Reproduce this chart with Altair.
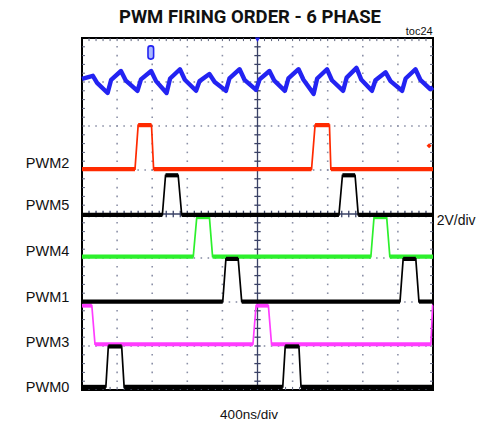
import altair as alt
import pandas as pd

# ---- values ----
# time axis in divisions (400 ns/div, 10 div), amplitude in divisions (2 V/div, 8 div)
BLUE_X = [0.00, 0.31, 0.43, 0.73, 0.83, 1.11, 1.25, 1.58, 1.68, 1.97, 2.11, 2.41, 2.51, 2.79, 2.93,
          3.25, 3.35, 3.63, 3.78, 4.10, 4.20, 4.49, 4.63, 4.96, 5.06, 5.34, 5.48, 5.78, 5.88, 6.17,
          6.31, 6.60, 6.70, 6.98, 7.12, 7.44, 7.54, 7.82, 7.96, 8.26, 8.36, 8.65, 8.79, 9.12, 9.22,
          9.50, 9.64, 9.92, 10.00]
BLUE_Y = [7.07, 7.14, 6.98, 6.75, 7.05, 7.25, 7.03, 6.80, 7.06, 7.25, 7.02, 6.75, 7.08, 7.29, 7.05,
          6.80, 7.02, 7.18, 7.00, 6.80, 7.08, 7.29, 7.05, 6.82, 7.06, 7.25, 7.03, 6.80, 7.08, 7.29,
          7.05, 6.73, 7.08, 7.29, 7.04, 6.80, 7.10, 7.32, 7.05, 6.80, 7.04, 7.22, 7.02, 6.80, 7.08,
          7.29, 7.05, 6.84, 6.88]

PWM2_X = [0, 1.51, 1.60, 1.98, 2.04, 6.54, 6.64, 7.05, 7.09, 10]
PWM2_Y = [5.02, 5.02, 6.02, 6.02, 5.02, 5.02, 6.02, 6.02, 5.02, 5.02]
PWM5_X = [0, 2.29, 2.38, 2.74, 2.84, 7.32, 7.42, 7.78, 7.87, 10]
PWM5_Y = [3.98, 3.98, 4.88, 4.88, 3.98, 3.98, 4.88, 4.88, 3.98, 3.98]
PWM4_X = [0, 3.17, 3.27, 3.63, 3.72, 8.23, 8.32, 8.68, 8.77, 10]
PWM4_Y = [3.03, 3.03, 3.93, 3.93, 3.03, 3.03, 3.93, 3.93, 3.03, 3.03]
PWM1_X = [0, 4.01, 4.10, 4.45, 4.55, 9.06, 9.15, 9.51, 9.60, 10]
PWM1_Y = [2.01, 2.01, 2.98, 2.98, 2.01, 2.01, 2.98, 2.98, 2.01, 2.01]
PWM3_X = [0, 0.28, 0.37, 4.87, 4.96, 5.31, 5.40, 9.94, 9.99, 10]
PWM3_Y = [1.92, 1.92, 1.04, 1.04, 1.92, 1.92, 1.04, 1.04, 1.92, 1.92]
PWM0_X = [0, 0.68, 0.75, 1.13, 1.20, 5.72, 5.79, 6.18, 6.24, 10]
PWM0_Y = [0.07, 0.07, 0.99, 0.99, 0.07, 0.07, 0.99, 0.99, 0.07, 0.07]

TRACE_NAMES = ["PWM2", "PWM5", "PWM4", "PWM1", "PWM3", "PWM0"]
TRACE_XS = [PWM2_X, PWM5_X, PWM4_X, PWM1_X, PWM3_X, PWM0_X]
TRACE_YS = [PWM2_Y, PWM5_Y, PWM4_Y, PWM1_Y, PWM3_Y, PWM0_Y]
TRACE_COLORS = ["#ff2a00", "#000000", "#2cf02c", "#000000", "#ff3cff", "#000000"]
DRAW_ORDER = ["PWM2", "PWM3", "PWM4", "PWM5", "PWM1", "PWM0"]
LABEL_Y = [5.05, 4.09, 3.05, 2.01, 0.98, -0.04]

TITLE = "PWM FIRING ORDER - 6 PHASE"
FIG_ID = "toc24"
Y_SCALE_TEXT = "2V/div"
X_SCALE_TEXT = "400ns/div"

X_DIVS = 10
Y_DIVS = 8

xs = alt.Scale(domain=[0, X_DIVS], nice=False, zero=False)
ys = alt.Scale(domain=[0, Y_DIVS], nice=False, zero=False)

def X(f="x"):
    return alt.X(f + ":Q", scale=xs, axis=None)

def Y(f="y"):
    return alt.Y(f + ":Q", scale=ys, axis=None)

# ---- graticule ----
dots = []
for gx in range(1, X_DIVS):
    if gx == X_DIVS // 2:
        continue
    for k in range(1, Y_DIVS * 5):
        dots.append({"x": gx, "y": k * 0.2})
for gy in range(1, Y_DIVS):
    if gy == Y_DIVS // 2:
        continue
    for k in range(1, X_DIVS * 5):
        dots.append({"x": k * 0.2, "y": gy})
dots_df = pd.DataFrame(dots)

ticks = []
for k in range(1, X_DIVS * 5):
    x = k * 0.2
    ticks.append({"x": x, "x2": x, "y": Y_DIVS, "y2": Y_DIVS - 0.07})
    ticks.append({"x": x, "x2": x, "y": 0, "y2": 0.07})
for k in range(1, Y_DIVS * 5):
    y = k * 0.2
    ticks.append({"x": 0, "x2": 0.085, "y": y, "y2": y})
    ticks.append({"x": X_DIVS, "x2": X_DIVS - 0.085, "y": y, "y2": y})
ticks_df = pd.DataFrame(ticks)

cross = []
cx, cy = X_DIVS / 2, Y_DIVS / 2
cross.append({"x": cx, "x2": cx, "y": 0, "y2": Y_DIVS})
cross.append({"x": 0, "x2": X_DIVS, "y": cy, "y2": cy})
for k in range(1, Y_DIVS * 5):
    cross.append({"x": cx - 0.09, "x2": cx + 0.09, "y": k * 0.2, "y2": k * 0.2})
for k in range(1, X_DIVS * 5):
    cross.append({"x": k * 0.2, "x2": k * 0.2, "y": cy - 0.075, "y2": cy + 0.075})
cross_df = pd.DataFrame(cross)

layers = []
layers.append(alt.Chart(dots_df).mark_square(size=2.5, color="#8a8fa6", opacity=1)
              .encode(x=X(), y=Y()))
layers.append(alt.Chart(ticks_df).mark_rule(color="#5a5f78", strokeWidth=1)
              .encode(x=X(), x2="x2:Q", y=Y(), y2="y2:Q"))
layers.append(alt.Chart(cross_df).mark_rule(color="#3a4266", strokeWidth=1.3)
              .encode(x=X(), x2="x2:Q", y=Y(), y2="y2:Q"))

# ---- blue ripple trace ----
blue_df = pd.DataFrame({"x": BLUE_X, "y": BLUE_Y, "i": range(len(BLUE_X))})
layers.append(alt.Chart(blue_df).mark_line(color="#2323f2", strokeWidth=4.4, strokeJoin="round")
              .encode(x=X(), y=Y(), order="i:Q"))

# ---- PWM traces ----
for name in DRAW_ORDER:
    idx = TRACE_NAMES.index(name)
    xv, yv, col = TRACE_XS[idx], TRACE_YS[idx], TRACE_COLORS[idx]
    df = pd.DataFrame({"x": xv, "y": yv, "i": range(len(xv))})
    layers.append(alt.Chart(df).mark_line(color=col, strokeWidth=1.7)
                  .encode(x=X(), y=Y(), order="i:Q"))
    segs = [{"x": xv[j], "x2": xv[j + 1], "y": yv[j]}
            for j in range(len(xv) - 1) if yv[j] == yv[j + 1]]
    layers.append(alt.Chart(pd.DataFrame(segs)).mark_rule(color=col, strokeWidth=4.2, strokeCap="butt")
                  .encode(x=X(), x2="x2:Q", y=Y()))

# ---- scope markers ----
trig_df = pd.DataFrame({"x": [1.88], "x2": [2.04], "y": [7.52], "y2": [7.82]})
layers.append(alt.Chart(trig_df).mark_rect(fill="#a9b8ff", stroke="#2323f2", strokeWidth=1.6, cornerRadius=2.5)
              .encode(x=X(), x2="x2:Q", y=Y(), y2="y2:Q"))
tpos_df = pd.DataFrame({"x": [5.0], "y": [7.96]})
layers.append(alt.Chart(tpos_df).mark_point(shape="triangle-down", size=28, filled=True, color="#2323f2", opacity=1)
              .encode(x=X(), y=Y()))
lvl_df = pd.DataFrame({"x": [9.89], "y": [5.55]})
layers.append(alt.Chart(lvl_df).mark_point(shape="diamond", size=26, filled=True, color="#ff2a00", opacity=1)
              .encode(x=X(), y=Y()))

# ---- texts ----
lab_df = pd.DataFrame({"x": [-0.362] * len(TRACE_NAMES), "y": LABEL_Y, "t": TRACE_NAMES})
layers.append(alt.Chart(lab_df).mark_text(align="right", baseline="alphabetic", font="Liberation Sans",
                                          fontSize=14.5, color="#111")
              .encode(x=X(), y=Y(), text="t:N"))

title_df = pd.DataFrame({"x": [4.786], "y": [8.348], "t": [TITLE]})
layers.append(alt.Chart(title_df).mark_text(align="center", baseline="alphabetic",
                                            font="Roboto", fontWeight="bold", fontSize=18.5, color="#111")
              .encode(x=X(), y=Y(), text="t:N"))
fig_df = pd.DataFrame({"x": [9.99], "y": [8.068], "t": [FIG_ID]})
layers.append(alt.Chart(fig_df).mark_text(align="right", baseline="alphabetic", font="Liberation Sans",
                                          fontSize=11, color="#111")
              .encode(x=X(), y=Y(), text="t:N"))
vs_df = pd.DataFrame({"x": [10.105], "y": [3.75], "t": [Y_SCALE_TEXT]})
layers.append(alt.Chart(vs_df).mark_text(align="left", baseline="alphabetic", font="Liberation Sans",
                                         fontSize=14, color="#111")
              .encode(x=X(), y=Y(), text="t:N"))
hs_df = pd.DataFrame({"x": [4.758], "y": [-0.666], "t": [X_SCALE_TEXT]})
layers.append(alt.Chart(hs_df).mark_text(align="center", baseline="alphabetic", font="Liberation Sans",
                                         fontSize=13.5, color="#111")
              .encode(x=X(), y=Y(), text="t:N"))

chart = alt.layer(*layers).properties(
    width=351, height=352,
    autosize=alt.AutoSizeParams(type="none"),
    padding={"left": 82, "top": 38, "right": 46, "bottom": 33},
    background="white",
).configure_view(stroke="#000000", strokeWidth=2)

chart.save("out.html", embed_options={"renderer": "svg", "actions": False})
